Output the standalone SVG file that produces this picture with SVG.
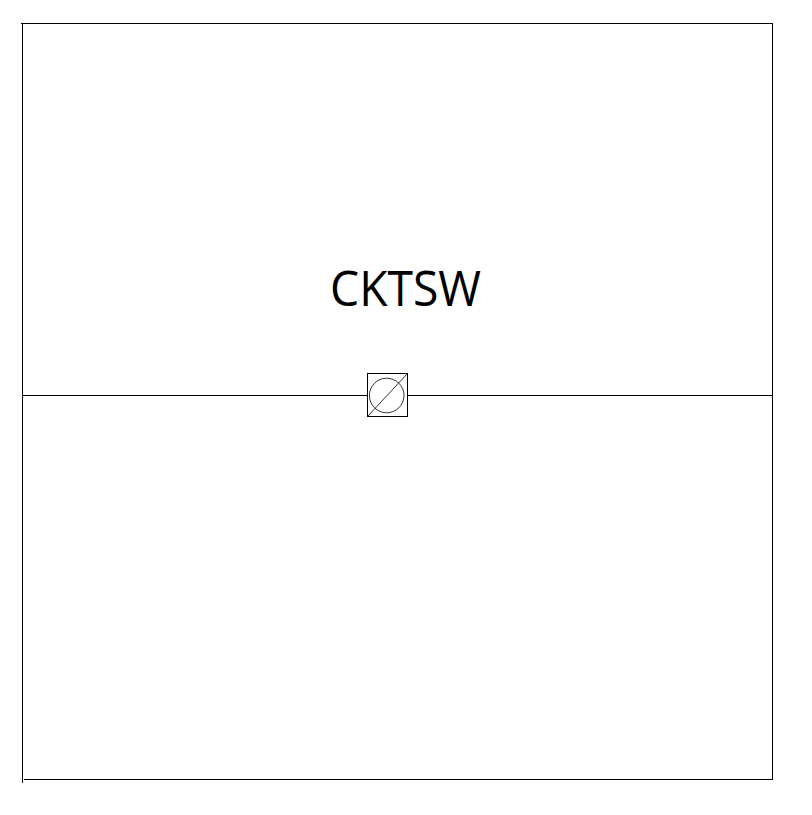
<svg xmlns="http://www.w3.org/2000/svg" width="812" height="815" viewBox="0 0 812 815">
<style>
.l{fill:none;stroke:#000;stroke-width:1}
.s{fill:none;stroke:#000;stroke-width:.8}
text{font-family:"Open Sans","Noto Sans",sans-serif;font-size:49px;fill:#000}
</style>
<rect width="812" height="815" fill="#fff"/>
<g id="frame">
<path class="l" d="M21 23.5H773M22.5 24V783M24 779.5H773M772.5 23V780"/>
</g>
<g id="connectors">
<path class="l" d="M22 395.5H367M408 395.5H773"/>
</g>
<g id="label"><text x="330" y="306" textLength="151" lengthAdjust="spacingAndGlyphs">CKTSW</text></g>
<g id="cktsw-symbol">
<rect class="l" x="367.5" y="373.5" width="40" height="43"/>
<circle class="s" cx="386.7" cy="395.5" r="17.3"/>
<path class="s" d="M367.5 416.5L407.5 373.5"/>
</g>
</svg>
